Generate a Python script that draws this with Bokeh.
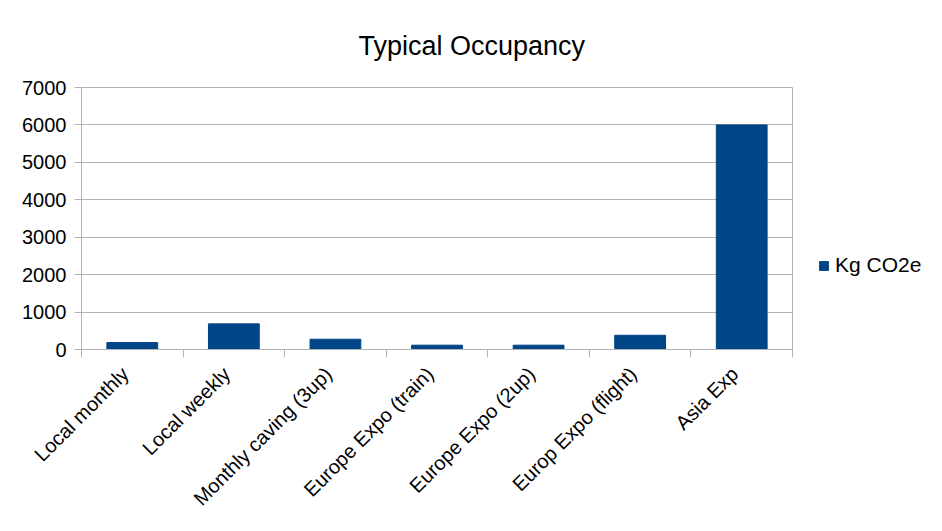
import math
from bokeh.plotting import figure
from bokeh.models import FixedTicker, Range1d, Legend, LegendItem
from bokeh.embed import file_html
from bokeh.resources import INLINE

categories = ["Local monthly", "Local weekly", "Monthly caving (3up)",
              "Europe Expo (train)", "Europe Expo (2up)", "Europ Expo (flight)", "Asia Exp"]
kg_co2e = [185, 685, 275, 115, 115, 380, 6000]
series_name = "Kg CO2e"
y_ticks = [0, 1000, 2000, 3000, 4000, 5000, 6000, 7000]
title_text = "Typical Occupancy"

FONT = "Liberation Sans"
GRID = "#b3b3b3"
BAR = "#004586"
LABEL_SHIFT = 0.07  # nudge rotated labels left (style only)

n = len(categories)
xs = [i + 0.5 for i in range(n)]
label_pos = [x - LABEL_SHIFT for x in xs]

p = figure(frame_width=711, frame_height=262, output_backend="svg", toolbar_location=None,
           x_range=Range1d(0, n), y_range=Range1d(0, 7000),
           min_border_left=81, min_border_right=140, min_border_top=87, min_border_bottom=172)

p.title.text = title_text
p.title.text_font = FONT
p.title.text_font_size = "27px"
p.title.text_font_style = "normal"
p.title.align = "left"
p.title.text_color = "black"
p.title.standoff = 54
p.title.offset = 277

r = p.vbar(x=xs, top=kg_co2e, width=0.5, fill_color=BAR, line_color=BAR)

p.outline_line_color = GRID
p.xgrid.grid_line_color = None
p.ygrid.grid_line_color = GRID
p.ygrid.ticker = FixedTicker(ticks=y_ticks)

xa = p.xaxis[0]
xa.ticker = FixedTicker(ticks=label_pos, minor_ticks=list(range(n + 1)))
xa.major_label_overrides = {x: c for x, c in zip(label_pos, categories)}
xa.major_tick_line_color = None
xa.minor_tick_line_color = GRID
xa.minor_tick_in = 0
xa.minor_tick_out = 8
xa.axis_line_color = GRID
xa.major_label_orientation = math.pi / 4
xa.major_label_text_font = FONT
xa.major_label_text_font_size = "20px"
xa.major_label_text_color = "black"
xa.major_label_standoff = 13

ya = p.yaxis[0]
ya.ticker = FixedTicker(ticks=y_ticks)
ya.axis_line_color = GRID
ya.major_tick_line_color = GRID
ya.major_tick_in = 0
ya.major_tick_out = 7
ya.minor_tick_line_color = None
ya.major_label_text_font = FONT
ya.major_label_text_font_size = "20px"
ya.major_label_text_color = "black"
ya.major_label_standoff = 8

legend = Legend(items=[LegendItem(label=series_name, renderers=[r])],
                location=(26, 72), border_line_color=None, background_fill_alpha=0,
                padding=0, margin=0, glyph_width=11, glyph_height=11, label_standoff=6,
                label_text_font=FONT, label_text_font_size="21px", label_text_color="black")
p.add_layout(legend, "right")

open("out.html", "w").write(file_html(p, INLINE))
